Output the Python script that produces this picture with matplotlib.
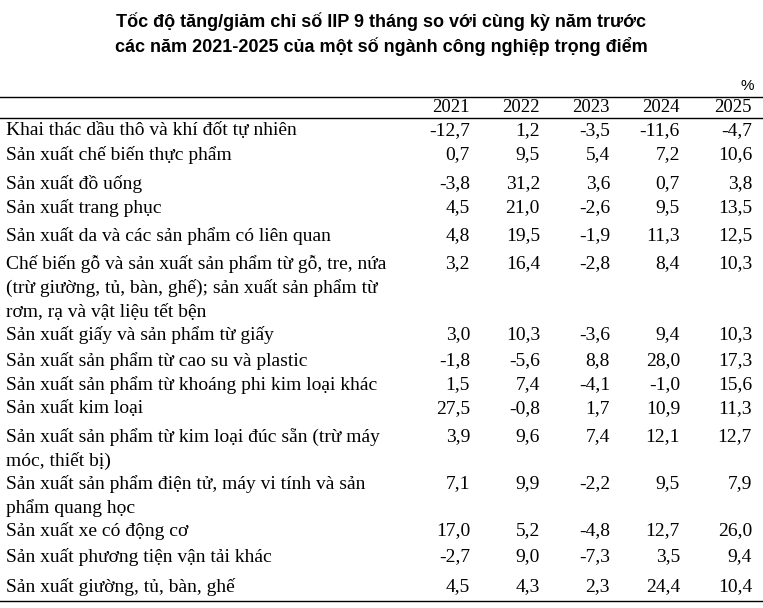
import matplotlib.pyplot as plt
from matplotlib.lines import Line2D

W, H = 763, 608

years = ["2021", "2022", "2023", "2024", "2025"]
industries = [
    "Khai thác dầu thô và khí đốt tự nhiên",
    "Sản xuất chế biến thực phẩm",
    "Sản xuất đồ uống",
    "Sản xuất trang phục",
    "Sản xuất da và các sản phẩm có liên quan",
    "Chế biến gỗ và sản xuất sản phẩm từ gỗ, tre, nứa\n(trừ giường, tủ, bàn, ghế); sản xuất sản phẩm từ\nrơm, rạ và vật liệu tết bện",
    "Sản xuất giấy và sản phẩm từ giấy",
    "Sản xuất sản phẩm từ cao su và plastic",
    "Sản xuất sản phẩm từ khoáng phi kim loại khác",
    "Sản xuất kim loại",
    "Sản xuất sản phẩm từ kim loại đúc sẵn (trừ máy\nmóc, thiết bị)",
    "Sản xuất sản phẩm điện tử, máy vi tính và sản\nphẩm quang học",
    "Sản xuất xe có động cơ",
    "Sản xuất phương tiện vận tải khác",
    "Sản xuất giường, tủ, bàn, ghế",
]
v2021 = [-12.7, 0.7, -3.8, 4.5, 4.8, 3.2, 3.0, -1.8, 1.5, 27.5, 3.9, 7.1, 17.0, -2.7, 4.5]
v2022 = [1.2, 9.5, 31.2, 21.0, 19.5, 16.4, 10.3, -5.6, 7.4, -0.8, 9.6, 9.9, 5.2, 9.0, 4.3]
v2023 = [-3.5, 5.4, 3.6, -2.6, -1.9, -2.8, -3.6, 8.8, -4.1, 1.7, 7.4, -2.2, -4.8, -7.3, 2.3]
v2024 = [-11.6, 7.2, 0.7, 9.5, 11.3, 8.4, 9.4, 28.0, -1.0, 10.9, 12.1, 9.5, 12.7, 3.5, 24.4]
v2025 = [-4.7, 10.6, 3.8, 13.5, 12.5, 10.3, 10.3, 17.3, 15.6, 11.3, 12.7, 7.9, 26.0, 9.4, 10.4]

row_top = [131, 155, 184, 208, 236, 264, 335, 361, 385, 409, 437, 484, 531, 557, 587]
col_right = [470, 540, 610, 680, 752]
line_h = 24


def fx(x):
    return x / W


def fy(y):
    return 1 - y / H


def fmt(v):
    return f"{v:.1f}".replace(".", ",")


fig = plt.figure(figsize=(W / 100, H / 100), dpi=100)
fig.patch.set_facecolor("white")

sans = "Liberation Sans"
serif = "Liberation Serif"

fig.text(fx(381), fy(22), "Tốc độ tăng/giảm chỉ số IIP 9 tháng so với cùng kỳ năm trước",
         ha="center", va="center", fontsize=13, fontweight="bold", family=sans)
fig.text(fx(381), fy(46), "các năm 2021-2025 của một số ngành công nghiệp trọng điểm",
         ha="center", va="center", fontsize=13, fontweight="bold", family=sans)
fig.text(fx(754), fy(86), "%", ha="right", va="center", fontsize=11, family=sans)

for y in (97, 118, 601):
    fig.add_artist(Line2D([0, 1], [fy(y), fy(y)], color="black", linewidth=1,
                          transform=fig.transFigure))

for yr, xr in zip(years, col_right):
    fig.text(fx(xr), fy(108), yr, ha="right", va="center", fontsize=13.5, family=serif)

series = [v2021, v2022, v2023, v2024, v2025]
for i, name in enumerate(industries):
    y0 = row_top[i]
    for k, line in enumerate(name.split("\n")):
        fig.text(fx(6), fy(y0 + k * line_h), line, ha="left", va="center",
                 fontsize=14, family=serif)
    for vals, xr in zip(series, col_right):
        fig.text(fx(xr), fy(y0), fmt(vals[i]), ha="right", va="center",
                 fontsize=14, family=serif)

plt.savefig("out.png", dpi=100, facecolor="white")
